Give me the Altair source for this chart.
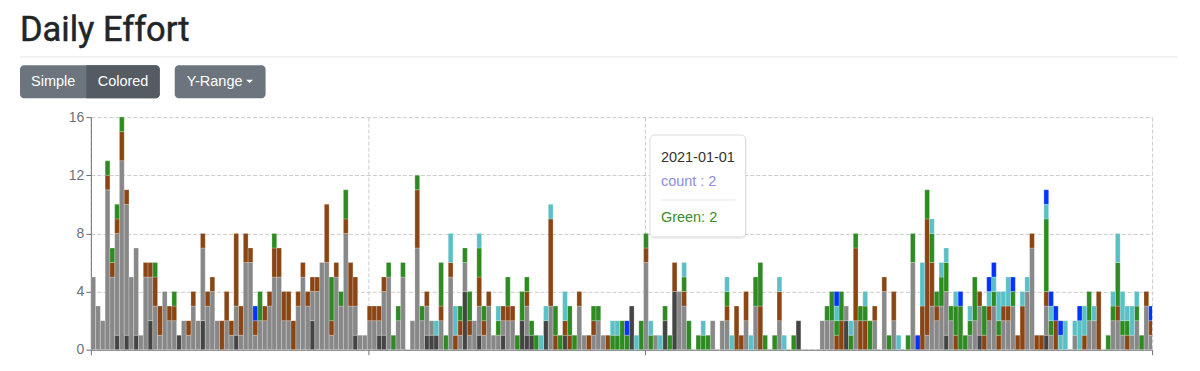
import altair as alt
import pandas as pd

# ---------------- data ----------------
START_DATE = "2020-09-07"
series_names = ["Dark", "Gray", "Brown", "Green", "Cyan", "Blue"]
series_colors = ["#444444", "#888888", "#8B4513", "#2E8B22", "#5BC0C6", "#0433FF"]

dark = [
    0, 0, 0, 0, 0, 1, 0, 1, 0, 1,
    0, 0, 2, 0, 0, 0, 0, 0, 1, 0,
    0, 0, 0, 2, 0, 0, 0, 0, 0, 0,
    1, 0, 0, 0, 0, 0, 0, 0, 0, 0,
    0, 0, 0, 0, 0, 0, 2, 0, 0, 0,
    0, 0, 0, 0, 0, 1, 0, 0, 0, 0,
    1, 1, 0, 0, 0, 0, 0, 0, 0, 0,
    1, 1, 1, 0, 0, 0, 0, 0, 4, 0,
    0, 1, 0, 0, 0, 0, 1, 0, 0, 0,
    2, 1, 1, 0, 0, 2, 0, 0, 0, 1,
    0, 0, 0, 0, 0, 0, 0, 0, 0, 0,
    0, 0, 0, 3, 0, 0, 0, 0, 0, 0,
    2, 0, 4, 0, 0, 0, 0, 0, 0, 0,
    0, 0, 0, 0, 0, 0, 0, 0, 0, 0,
    0, 0, 0, 0, 0, 0, 0, 0, 2, 0,
    0, 0, 0, 0, 0, 0, 0, 0, 2, 0,
    0, 0, 0, 0, 0, 0, 0, 0, 0, 0,
    0, 0, 0, 0, 0, 0, 0, 0, 0, 1,
    0, 0, 0, 0, 0, 0, 1, 0, 0, 0,
    0, 0, 0, 0, 0, 0, 0, 0, 0, 0,
    1, 0, 0, 0, 0, 0, 0, 0, 0, 0,
    0, 0, 0, 0, 0, 0, 0, 0, 0, 0, 0, 0, 0,
]
gray = [
    5, 3, 2, 11, 5, 7, 13, 9, 5, 6,
    1, 5, 3, 3, 1, 4, 2, 2, 0, 2,
    1, 3, 2, 5, 3, 4, 2, 0, 2, 1,
    2, 1, 6, 6, 1, 2, 2, 3, 5, 5,
    2, 2, 0, 3, 5, 3, 2, 4, 6, 6,
    1, 5, 3, 8, 3, 2, 1, 1, 2, 2,
    1, 3, 5, 0, 2, 5, 0, 2, 7, 2,
    2, 1, 0, 2, 0, 5, 0, 1, 2, 1,
    2, 2, 1, 3, 1, 1, 1, 2, 2, 0,
    0, 2, 0, 0, 0, 0, 3, 0, 0, 0,
    0, 0, 3, 1, 0, 1, 2, 1, 0, 0,
    0, 0, 0, 0, 0, 0, 6, 0, 1, 0,
    0, 0, 0, 4, 3, 0, 0, 0, 0, 0,
    2, 0, 2, 2, 0, 0, 0, 2, 0, 3,
    0, 0, 0, 0, 2, 0, 0, 0, 0, 0,
    0, 0, 0, 2, 2, 2, 0, 0, 1, 0,
    2, 0, 0, 0, 2, 0, 4, 0, 2, 0,
    0, 0, 6, 0, 0, 1, 3, 2, 3, 3,
    2, 0, 0, 0, 1, 2, 2, 0, 2, 3,
    0, 2, 2, 3, 0, 0, 4, 7, 0, 0,
    2, 1, 0, 0, 0, 0, 1, 0, 0, 2,
    2, 0, 0, 0, 2, 2, 1, 0, 1, 2, 0, 3, 1,
]
brown = [
    0, 0, 0, 1, 1, 1, 2, 1, 0, 0,
    0, 1, 1, 2, 2, 0, 1, 1, 0, 0,
    1, 1, 0, 1, 1, 1, 0, 2, 2, 1,
    5, 2, 2, 1, 1, 0, 1, 1, 2, 2,
    2, 2, 2, 1, 1, 1, 1, 1, 0, 4,
    1, 1, 0, 1, 3, 2, 0, 0, 1, 1,
    1, 1, 0, 0, 0, 0, 0, 0, 4, 0,
    1, 0, 0, 1, 0, 1, 1, 1, 0, 1,
    0, 2, 1, 1, 0, 0, 1, 1, 1, 0,
    0, 1, 0, 0, 0, 0, 6, 1, 0, 1,
    1, 0, 1, 0, 1, 1, 0, 0, 1, 0,
    0, 0, 0, 0, 0, 0, 1, 0, 0, 0,
    0, 0, 2, 0, 1, 0, 0, 0, 0, 0,
    0, 0, 0, 1, 0, 3, 1, 2, 0, 0,
    3, 0, 0, 0, 2, 0, 0, 0, 0, 0,
    0, 0, 0, 0, 0, 0, 1, 2, 0, 0,
    5, 2, 2, 0, 1, 0, 1, 0, 2, 0,
    0, 0, 0, 0, 3, 8, 3, 1, 0, 0,
    0, 1, 0, 0, 0, 0, 1, 1, 1, 0,
    1, 1, 1, 0, 1, 3, 0, 1, 1, 1,
    1, 0, 2, 0, 0, 0, 0, 0, 1, 0,
    0, 4, 0, 0, 0, 1, 0, 1, 0, 0, 0, 1, 1,
]
green = [
    0, 0, 0, 1, 1, 1, 1, 0, 0, 0,
    0, 0, 0, 1, 0, 0, 0, 1, 0, 0,
    0, 0, 0, 0, 0, 0, 0, 0, 0, 0,
    0, 0, 0, 0, 0, 2, 0, 0, 1, 0,
    0, 0, 0, 0, 0, 0, 0, 0, 0, 0,
    3, 0, 1, 2, 0, 0, 0, 0, 0, 0,
    0, 0, 1, 1, 1, 1, 0, 0, 1, 1,
    0, 0, 0, 3, 1, 0, 0, 1, 1, 2,
    0, 2, 1, 0, 0, 1, 0, 2, 0, 1,
    2, 1, 1, 1, 0, 0, 0, 2, 1, 0,
    2, 1, 0, 0, 0, 1, 1, 0, 0, 1,
    1, 2, 1, 0, 0, 2, 1, 1, 0, 0,
    1, 1, 0, 0, 1, 2, 0, 1, 1, 1,
    0, 0, 0, 1, 0, 0, 0, 0, 0, 2,
    3, 1, 0, 1, 0, 0, 0, 1, 0, 0,
    0, 0, 0, 0, 1, 2, 1, 2, 0, 1,
    1, 1, 1, 2, 0, 0, 0, 1, 0, 0,
    0, 1, 2, 0, 0, 2, 2, 1, 2, 2,
    1, 2, 3, 1, 1, 3, 0, 2, 0, 1,
    1, 0, 0, 1, 0, 0, 0, 0, 0, 0,
    5, 1, 0, 0, 0, 0, 0, 0, 0, 2,
    0, 0, 0, 1, 1, 3, 1, 1, 0, 1, 1, 0, 0,
]
cyan = [
    0, 0, 0, 0, 0, 0, 0, 0, 0, 0,
    0, 0, 0, 0, 0, 0, 0, 0, 0, 0,
    0, 0, 0, 0, 0, 0, 0, 0, 0, 0,
    0, 0, 0, 0, 0, 0, 0, 0, 0, 0,
    0, 0, 0, 0, 0, 0, 0, 0, 0, 0,
    0, 0, 0, 0, 0, 0, 0, 0, 0, 0,
    0, 0, 0, 0, 0, 0, 0, 0, 0, 0,
    0, 0, 1, 0, 0, 2, 2, 0, 0, 0,
    0, 1, 0, 0, 0, 1, 0, 0, 0, 0,
    0, 0, 0, 0, 1, 1, 1, 0, 0, 2,
    0, 0, 0, 0, 0, 0, 0, 0, 0, 1,
    1, 0, 0, 0, 1, 0, 0, 1, 0, 1,
    0, 0, 0, 0, 1, 0, 0, 0, 1, 0,
    0, 0, 0, 1, 1, 0, 0, 0, 1, 0,
    0, 0, 0, 0, 1, 1, 0, 0, 0, 0,
    0, 0, 0, 0, 0, 0, 1, 0, 0, 1,
    0, 0, 1, 0, 0, 0, 0, 0, 0, 1,
    0, 0, 0, 0, 3, 0, 1, 0, 1, 1,
    0, 1, 0, 0, 1, 0, 0, 0, 1, 1,
    2, 1, 2, 0, 0, 1, 1, 0, 0, 0,
    1, 1, 0, 1, 2, 0, 1, 2, 2, 0,
    1, 0, 0, 0, 1, 2, 2, 1, 2, 1, 0, 0, 0,
]
blue = [
    0, 0, 0, 0, 0, 0, 0, 0, 0, 0,
    0, 0, 0, 0, 0, 0, 0, 0, 0, 0,
    0, 0, 0, 0, 0, 0, 0, 0, 0, 0,
    0, 0, 0, 0, 1, 0, 0, 0, 0, 0,
    0, 0, 0, 0, 0, 0, 0, 0, 0, 0,
    0, 0, 0, 0, 0, 0, 0, 0, 0, 0,
    0, 0, 0, 0, 0, 0, 0, 0, 0, 0,
    0, 0, 0, 0, 0, 0, 0, 0, 0, 0,
    0, 0, 0, 0, 0, 0, 0, 0, 0, 0,
    0, 0, 0, 0, 0, 0, 0, 0, 0, 0,
    0, 0, 0, 0, 0, 0, 0, 0, 0, 0,
    0, 0, 1, 0, 0, 0, 0, 0, 0, 0,
    0, 0, 0, 0, 0, 0, 0, 0, 0, 0,
    0, 0, 0, 0, 0, 0, 0, 0, 0, 0,
    0, 0, 0, 0, 0, 0, 0, 0, 0, 0,
    0, 0, 0, 0, 0, 0, 1, 0, 0, 0,
    0, 0, 0, 0, 0, 0, 0, 0, 0, 0,
    0, 0, 0, 1, 0, 0, 0, 0, 0, 0,
    0, 0, 1, 0, 0, 0, 0, 0, 1, 1,
    0, 0, 0, 1, 0, 0, 0, 0, 0, 0,
    1, 1, 1, 1, 0, 0, 0, 1, 0, 0,
    0, 0, 0, 0, 0, 0, 0, 0, 0, 0, 0, 0, 1,
]
y_ticks = [0, 4, 8, 12, 16]
tooltip_date = "2021-01-01"
tooltip_count = 2
tooltip_green = 2

# ---------------- build table ----------------
n_days = len(gray)
dates = pd.date_range(START_DATE, periods=n_days).strftime("%Y-%m-%d")
rows = []
for k, (name, vals) in enumerate(zip(series_names, [dark, gray, brown, green, cyan, blue])):
    for i, v in enumerate(vals):
        if v > 0:
            rows.append({"day": i, "date": dates[i], "series": name, "count": v, "ord": k})
df = pd.DataFrame(rows)

W, H = 1063, 233
X_END = 222.7
AXIS_C = "#6E7079"
GRID_C = "#cccccc"
dummy = pd.DataFrame({"d": [0]})

bars = (
    alt.Chart(df)
    .transform_stack(
        stack="count", groupby=["day"], as_=["y0", "y1"],
        sort=[alt.SortField("ord", order="ascending")],
    )
    .transform_calculate(day_end="datum.day + 1")
    .mark_rect(clip=True, stroke="#ffffff", strokeWidth=0.5, strokeOpacity=0.45)
    .encode(
        x=alt.X(
            "day:Q",
            scale=alt.Scale(domain=[0, X_END], nice=False, zero=False),
            axis=alt.Axis(
                values=[0, 58.15, 116.2, X_END], labels=False, title=None,
                grid=True, gridDash=[4, 2], gridColor=GRID_C,
                tickSize=5, tickColor=AXIS_C, domainColor=AXIS_C,
            ),
        ),
        x2="day_end:Q",
        y=alt.Y(
            "y0:Q",
            scale=alt.Scale(domain=[0, 16], nice=False, zero=True),
            axis=alt.Axis(
                values=y_ticks, title=None, grid=True, gridDash=[4, 2], gridColor=GRID_C,
                tickSize=5, tickColor=AXIS_C, domainColor=AXIS_C,
                labelColor=AXIS_C, labelFontSize=14, labelFont="Liberation Sans",
                labelPadding=2,
            ),
        ),
        y2="y1:Q",
        color=alt.Color("series:N", scale=alt.Scale(domain=series_names, range=series_colors), legend=None),
        tooltip=["date:N", "series:N", "count:Q"],
    )
)

# ---------------- page decorations (title, buttons, tooltip) ----------------
def txt(s, x, y, size, color, align="left", baseline="alphabetic", font="Liberation Sans",
        weight="normal", **kw):
    return alt.Chart(dummy).mark_text(
        text=s, align=align, baseline=baseline, fontSize=size, font=font,
        fontWeight=weight, color=color, **kw,
    ).encode(x=alt.value(x), y=alt.value(y))

def box(x, x2, y, y2, fill, **kw):
    return alt.Chart(dummy).mark_rect(fill=fill, **kw).encode(
        x=alt.value(x), x2=alt.value(x2), y=alt.value(y), y2=alt.value(y2)
    )

title = txt("Daily Effort", -71, -76.5, 34.5, "#212529", font="Roboto",
            stroke="#212529", strokeWidth=0.5)
hr = alt.Chart(dummy).mark_rule(color="#e6e6e6", strokeWidth=1).encode(
    x=alt.value(-71), x2=alt.value(1089), y=alt.value(-60.3)
)
btn_group = box(-71, 69, -52, -19, "#6c757d", cornerRadius=4)
btn_active = box(-4.5, 69, -52, -19, "#545b62", cornerRadiusTopRight=4, cornerRadiusBottomRight=4)
btn_range = box(84, 175, -52, -19, "#6c757d", cornerRadius=4)
t_simple = txt("Simple", -37.8, -35.5, 14.5, "#ffffff", align="center", baseline="middle")
t_colored = txt("Colored", 32.2, -35.5, 14.5, "#ffffff", align="center", baseline="middle")
t_range = txt("Y-Range", 96, -35.5, 14.5, "#ffffff", baseline="middle")
caret = alt.Chart(dummy).mark_point(
    shape="M-1,-0.5L1,-0.5L0,0.5Z", filled=True, fill="#ffffff", size=49, opacity=1
).encode(x=alt.value(159), y=alt.value(-35.8))

tip_shadow = box(561, 657, 19.5, 122, "#000000", cornerRadius=4, opacity=0.06)
tip_box = box(560, 655.7, 18, 120, "#ffffff", cornerRadius=4, stroke="#dcdcdc", strokeWidth=1)
tip_date = txt(tooltip_date, 571, 44.7, 14.5, "#333333")
tip_count = txt(f"count : {tooltip_count}", 571, 68.7, 14.5, "#8c8ce0")
tip_sep = alt.Chart(dummy).mark_rule(color="#e6e6e6", strokeWidth=1).encode(
    x=alt.value(571), x2=alt.value(646), y=alt.value(83)
)
tip_green = txt(f"Green: {tooltip_green}", 571, 105.3, 14.5, "#3c8c28")

chart = (
    alt.layer(
        bars, title, hr, btn_group, btn_active, btn_range, t_simple, t_colored, t_range, caret,
        tip_shadow, tip_box, tip_date, tip_count, tip_sep, tip_green,
    )
    .properties(
        width=W, height=H,
        autosize=alt.AutoSizeParams(type="none"),
        padding={"left": 83, "top": 109, "right": 40, "bottom": 9},
        background="#ffffff",
    )
    .configure_view(stroke=None)
)

chart.save("out.html", embed_options={"renderer": "svg", "actions": False})
